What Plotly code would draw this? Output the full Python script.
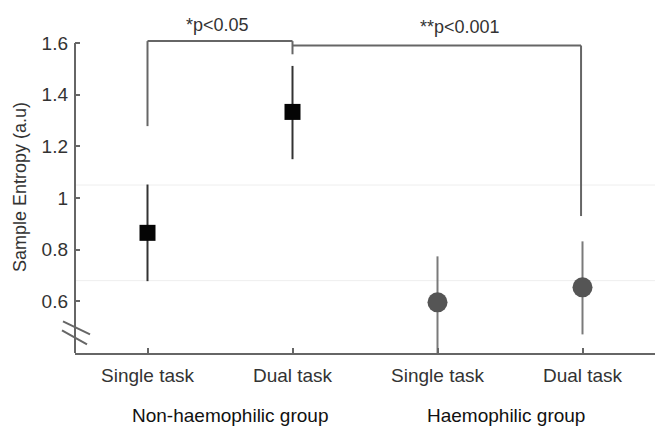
import plotly.graph_objects as go

# ---- data ----
tasks = ["Single task", "Dual task", "Single task", "Dual task"]
groups = ["Non-haemophilic group", "Haemophilic group"]
positions = [1, 2, 3, 4]

nh_mean = [0.865, 1.333]
nh_sd_plus = [0.187, 0.178]
nh_sd_minus = [0.187, 0.183]

h_mean = [0.596, 0.654]
h_sd_plus = [0.178, 0.178]
h_sd_minus = [0.20, 0.182]

sig_labels = ["*p<0.05", "**p<0.001"]
yticks = [0.6, 0.8, 1.0, 1.2, 1.4, 1.6]
yticktext = ["0.6", "0.8", "1", "1.2", "1.4", "1.6"]

FONT = "Liberation Sans, Arial, sans-serif"
AX = "#666666"
TXT = "#333333"

fig = go.Figure()

fig.add_trace(go.Scatter(
    x=positions[:2], y=nh_mean, mode="markers",
    marker=dict(symbol="square", size=16, color="#050505"),
    error_y=dict(type="data", symmetric=False, array=nh_sd_plus,
                 arrayminus=nh_sd_minus, width=0, thickness=2, color="#333333"),
    showlegend=False, cliponaxis=False))

fig.add_trace(go.Scatter(
    x=positions[2:], y=h_mean, mode="markers",
    marker=dict(symbol="circle", size=20, color="#555555"),
    error_y=dict(type="data", symmetric=False, array=h_sd_plus,
                 arrayminus=h_sd_minus, width=0, thickness=2, color="#7a7a7a"),
    showlegend=False))

shapes = []
# faint horizontal reference lines
for yv in [1.05, 0.68]:
    shapes.append(dict(type="line", xref="x", yref="y", x0=0.5, x1=4.5, y0=yv, y1=yv,
                       line=dict(color="#eeeeee", width=1), layer="below"))
# y axis line (0.4 -> 1.6)
shapes.append(dict(type="line", xref="paper", yref="y", x0=0, x1=0, y0=0.4, y1=1.6,
                   line=dict(color=AX, width=2)))
# axis break marks
shapes.append(dict(type="line", xref="paper", yref="y", x0=-0.0207, x1=0.0259,
                   y0=0.5225, y1=0.472, line=dict(color=AX, width=2)))
shapes.append(dict(type="line", xref="paper", yref="y", x0=-0.0224, x1=0.0207,
                   y0=0.4876, y1=0.4333, line=dict(color=AX, width=2)))
# significance bracket 1
b1 = [(1, 1.278), (1, 1.607), (2, 1.607), (2, 1.556)]
for (xa, ya), (xb, yb) in zip(b1[:-1], b1[1:]):
    shapes.append(dict(type="line", xref="x", yref="y", x0=xa, x1=xb, y0=ya, y1=yb,
                       line=dict(color=AX, width=2)))
# significance bracket 2
b2 = [(2, 1.59), (3.99, 1.59), (3.99, 0.93)]
for (xa, ya), (xb, yb) in zip(b2[:-1], b2[1:]):
    shapes.append(dict(type="line", xref="x", yref="y", x0=xa, x1=xb, y0=ya, y1=yb,
                       line=dict(color=AX, width=2)))

# plot area: top 30px, height 323px -> paper y for pixel rows
def py(pix):
    return (353 - pix) / 323.0

def ann(x, y, text, size, color, xref="x", **kw):
    return dict(x=x, y=y, xref=xref, yref="paper", text=text, showarrow=False,
                xanchor="center", yanchor="middle",
                font=dict(family=FONT, size=size, color=color), **kw)

annotations = [
    ann(1.48, py(25), sig_labels[0], 18, TXT),
    ann(3.155, py(27), sig_labels[1], 18, TXT),
    ann(1.57, py(415), groups[0], 19, "#111111"),
    ann(3.47, py(415), groups[1], 19, "#111111"),
    ann(-0.0948, py(187), "Sample Entropy (a.u)", 18, TXT, xref="paper", textangle=-90),
]

fig.update_layout(
    width=657, height=426,
    margin=dict(l=75, r=2, t=30, b=73),
    paper_bgcolor="white", plot_bgcolor="white",
    font=dict(family=FONT, size=19, color=TXT),
    shapes=shapes, annotations=annotations,
    xaxis=dict(range=[0.5, 4.5], tickvals=positions, ticktext=tasks,
               showline=True, linecolor=AX, linewidth=2, ticks="inside",
               ticklen=5, tickcolor=AX, tickwidth=1.5, showgrid=False,
               zeroline=False, ticklabelstandoff=4,
               tickfont=dict(family=FONT, size=19, color=TXT)),
    yaxis=dict(range=[0.4, 1.65], tickvals=yticks, ticktext=yticktext,
               showline=False, ticks="inside", ticklen=5, tickcolor=AX,
               tickwidth=1.5, showgrid=False, zeroline=False,
               ticklabelstandoff=6,
               tickfont=dict(family=FONT, size=19, color=TXT)),
)

fig.write_html("out.html", config={"displayModeBar": False},
               post_script="document.body.style.margin='0';")
